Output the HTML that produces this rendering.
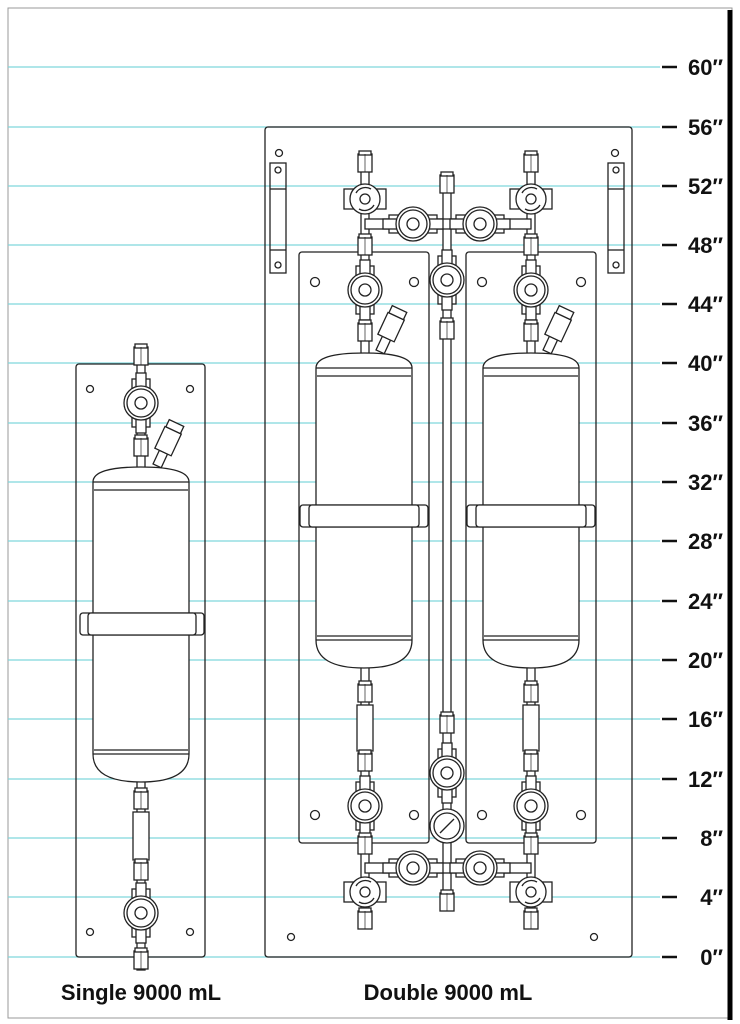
<!DOCTYPE html>
<html><head><meta charset="utf-8"><style>
html,body{margin:0;padding:0;background:#fff}
svg{display:block}
text{font-family:"Liberation Sans",sans-serif;font-weight:bold;fill:#111}
</style></head><body>
<svg width="740" height="1024" viewBox="0 0 740 1024" xmlns="http://www.w3.org/2000/svg">
<defs>
<g id="valve">
  <rect x="-9" y="-24" width="18" height="48" fill="#fff" stroke="#222" stroke-width="1.3"/>
  <rect x="-5" y="-30" width="10" height="60" fill="#fff" stroke="#222" stroke-width="1.3"/>
  <circle r="17" fill="#fff" stroke="#222" stroke-width="1.3"/>
  <circle r="14" fill="#fff" stroke="#222" stroke-width="1.3"/>
  <circle r="6" fill="#fff" stroke="#222" stroke-width="1.3"/>
</g>
<g id="hvalve">
  <rect x="-24" y="-9" width="48" height="18" fill="#fff" stroke="#222" stroke-width="1.3"/>
  <rect x="-30" y="-5" width="60" height="10" fill="#fff" stroke="#222" stroke-width="1.3"/>
  <circle r="17" fill="#fff" stroke="#222" stroke-width="1.3"/>
  <circle r="14" fill="#fff" stroke="#222" stroke-width="1.3"/>
  <circle r="6" fill="#fff" stroke="#222" stroke-width="1.3"/>
</g>
<g id="tvalve">
  <rect x="-21" y="-10" width="42" height="20" fill="#fff" stroke="#222" stroke-width="1.3"/>
  <circle r="15" fill="#fff" stroke="#222" stroke-width="1.3"/>
  <path d="M-9,-6 A11,11 0 0 1 6,-10 M9,6 A11,11 0 0 1 -6,10" fill="none" stroke="#222" stroke-width="1.3"/>
  <circle r="5" fill="#fff" stroke="#222" stroke-width="1.3"/>
</g>
<g id="fit">
  <rect x="-7" y="-9" width="14" height="18" fill="#fff" stroke="#222" stroke-width="1.3"/>
  <rect x="-6" y="-12" width="12" height="4" fill="#fff" stroke="#222" stroke-width="1.3"/>
  <line x1="0" y1="-9" x2="0" y2="9" stroke="#222" stroke-width=".7"/>
</g>
<g id="tank" stroke="#222" stroke-width="1.3">
  <path d="M0,26 Q0,11 48,11 Q96,11 96,26 L96,298 Q96,326 48,326 Q0,326 0,298 Z" fill="#fff"/>
  <line x1="0" y1="26" x2="96" y2="26"/>
  <line x1="1" y1="34" x2="95" y2="34"/>
  <line x1="0" y1="298" x2="96" y2="298"/>
  <line x1="1" y1="294" x2="95" y2="294"/>
  <g transform="translate(70,-4) rotate(25)">
    <rect x="-4" y="0" width="9" height="15" fill="#fff"/>
    <rect x="-9" y="-24" width="18" height="24" fill="#fff"/>
    <rect x="-8" y="-32" width="16" height="8" fill="#fff"/>
  </g>
</g>
</defs>
<rect x="8" y="8" width="724" height="1010" fill="none" stroke="#999"/>
<line x1="730" y1="10" x2="730" y2="1020" stroke="#000" stroke-width="5"/>
<g stroke="#7fd6dc" stroke-width="1.2">
<line x1="8" y1="67" x2="660" y2="67"/><line x1="8" y1="127" x2="660" y2="127"/>
<line x1="8" y1="186" x2="660" y2="186"/><line x1="8" y1="245" x2="660" y2="245"/>
<line x1="8" y1="304" x2="660" y2="304"/><line x1="8" y1="363" x2="660" y2="363"/>
<line x1="8" y1="423" x2="660" y2="423"/><line x1="8" y1="482" x2="660" y2="482"/>
<line x1="8" y1="541" x2="660" y2="541"/><line x1="8" y1="601" x2="660" y2="601"/>
<line x1="8" y1="660" x2="660" y2="660"/><line x1="8" y1="719" x2="660" y2="719"/>
<line x1="8" y1="779" x2="660" y2="779"/><line x1="8" y1="838" x2="660" y2="838"/>
<line x1="8" y1="897" x2="660" y2="897"/><line x1="8" y1="957" x2="660" y2="957"/>
</g>
<g stroke="#111" stroke-width="2.5">
<line x1="662" y1="67" x2="677" y2="67"/><line x1="662" y1="127" x2="677" y2="127"/>
<line x1="662" y1="186" x2="677" y2="186"/><line x1="662" y1="245" x2="677" y2="245"/>
<line x1="662" y1="304" x2="677" y2="304"/><line x1="662" y1="363" x2="677" y2="363"/>
<line x1="662" y1="423" x2="677" y2="423"/><line x1="662" y1="482" x2="677" y2="482"/>
<line x1="662" y1="541" x2="677" y2="541"/><line x1="662" y1="601" x2="677" y2="601"/>
<line x1="662" y1="660" x2="677" y2="660"/><line x1="662" y1="719" x2="677" y2="719"/>
<line x1="662" y1="779" x2="677" y2="779"/><line x1="662" y1="838" x2="677" y2="838"/>
<line x1="662" y1="897" x2="677" y2="897"/><line x1="662" y1="957" x2="677" y2="957"/>
</g>
<g font-size="22" text-anchor="end">
<text x="723" y="75">60″</text><text x="723" y="135">56″</text>
<text x="723" y="194">52″</text><text x="723" y="253">48″</text>
<text x="723" y="312">44″</text><text x="723" y="371">40″</text>
<text x="723" y="431">36″</text><text x="723" y="490">32″</text>
<text x="723" y="549">28″</text><text x="723" y="609">24″</text>
<text x="723" y="668">20″</text><text x="723" y="727">16″</text>
<text x="723" y="787">12″</text><text x="723" y="846">8″</text>
<text x="723" y="905">4″</text><text x="723" y="965">0″</text>
</g>

<!-- SINGLE -->
<g stroke="#222" stroke-width="1.3" fill="none">
<rect x="76" y="364" width="129" height="593" rx="3"/>
<circle cx="90" cy="389" r="3.5"/><circle cx="190" cy="389" r="3.5"/>
<circle cx="90" cy="932" r="3.5"/><circle cx="190" cy="932" r="3.5"/>
<rect x="137" y="350" width="8" height="620" fill="#fff"/>
</g>
<use href="#fit" x="141" y="356"/>
<use href="#valve" x="141" y="403"/>
<use href="#fit" x="141" y="447"/>
<use href="#tank" x="93" y="456"/>
<g stroke="#222" stroke-width="1.3" fill="#fff">
<rect x="80" y="613" width="124" height="22" rx="3"/>
<rect x="88" y="613" width="108" height="22" rx="3"/>
<rect x="133" y="812" width="16" height="48"/>
</g>
<use href="#fit" x="141" y="800"/>
<use href="#fit" x="141" y="871"/>
<use href="#valve" x="141" y="913"/>
<use href="#fit" x="141" y="960"/>

<!-- DOUBLE -->
<g stroke="#222" stroke-width="1.3" fill="none">
<rect x="265" y="127" width="367" height="830" rx="3"/>
<rect x="299" y="252" width="130" height="591" rx="3"/>
<rect x="466" y="252" width="130" height="591" rx="3"/>
<circle cx="279" cy="153" r="3.5"/><circle cx="615" cy="153" r="3.5"/>
<circle cx="291" cy="937" r="3.5"/><circle cx="594" cy="937" r="3.5"/>
<rect x="270" y="163" width="16" height="110"/><rect x="608" y="163" width="16" height="110"/>
<line x1="270" y1="189" x2="286" y2="189"/><line x1="270" y1="250" x2="286" y2="250"/>
<line x1="608" y1="189" x2="624" y2="189"/><line x1="608" y1="250" x2="624" y2="250"/>
<circle cx="278" cy="170" r="3"/><circle cx="278" cy="265" r="3"/>
<circle cx="616" cy="170" r="3"/><circle cx="616" cy="265" r="3"/>
<circle cx="315" cy="282" r="4.5"/><circle cx="414" cy="282" r="4.5"/>
<circle cx="482" cy="282" r="4.5"/><circle cx="581" cy="282" r="4.5"/>
<circle cx="315" cy="815" r="4.5"/><circle cx="414" cy="815" r="4.5"/>
<circle cx="482" cy="815" r="4.5"/><circle cx="581" cy="815" r="4.5"/>
<rect x="361" y="165" width="8" height="200" fill="#fff"/>
<rect x="527" y="165" width="8" height="200" fill="#fff"/>
<rect x="443" y="185" width="8" height="720" fill="#fff"/>
<rect x="361" y="660" width="8" height="255" fill="#fff"/>
<rect x="527" y="660" width="8" height="255" fill="#fff"/>
<rect x="365" y="219" width="166" height="10" fill="#fff"/>
<rect x="365" y="863" width="166" height="10" fill="#fff"/>
</g>
<use href="#fit" x="365" y="163"/><use href="#fit" x="531" y="163"/>
<use href="#fit" x="447" y="184"/>
<use href="#tvalve" x="365" y="199"/><use href="#tvalve" x="531" y="199"/>
<use href="#hvalve" x="413" y="224"/><use href="#hvalve" x="480" y="224"/>
<use href="#fit" x="365" y="246"/><use href="#fit" x="531" y="246"/>
<use href="#valve" x="365" y="290"/><use href="#valve" x="531" y="290"/>
<use href="#valve" x="447" y="280"/>
<use href="#fit" x="365" y="332"/><use href="#fit" x="531" y="332"/>
<use href="#fit" x="447" y="330"/>
<use href="#tank" x="316" y="342"/><use href="#tank" x="483" y="342"/>
<g stroke="#222" stroke-width="1.3" fill="#fff">
<rect x="300" y="505" width="128" height="22" rx="3"/>
<rect x="309" y="505" width="110" height="22" rx="3"/>
<rect x="467" y="505" width="128" height="22" rx="3"/>
<rect x="476" y="505" width="110" height="22" rx="3"/>
<rect x="357" y="705" width="16" height="46"/>
<rect x="523" y="705" width="16" height="46"/>
</g>
<use href="#fit" x="365" y="693"/><use href="#fit" x="531" y="693"/>
<use href="#fit" x="365" y="762"/><use href="#fit" x="531" y="762"/>
<use href="#fit" x="447" y="724"/>
<use href="#valve" x="365" y="806"/><use href="#valve" x="531" y="806"/>
<use href="#valve" x="447" y="773"/>
<g stroke="#222" stroke-width="1.3" fill="#fff">
<circle cx="447" cy="826" r="17"/><circle cx="447" cy="826" r="13"/>
<line x1="440" y1="833" x2="454" y2="819"/>
</g>
<use href="#fit" x="365" y="845"/><use href="#fit" x="531" y="845"/>
<use href="#hvalve" x="413" y="868"/><use href="#hvalve" x="480" y="868"/>
<use href="#tvalve" x="365" y="892"/><use href="#tvalve" x="531" y="892"/>
<use href="#fit" x="447" y="902"/>
<use href="#fit" x="365" y="920"/><use href="#fit" x="531" y="920"/>

<text x="141" y="1000" font-size="22" text-anchor="middle">Single 9000 mL</text>
<text x="448" y="1000" font-size="22" text-anchor="middle">Double 9000 mL</text>
</svg>
</body></html>
